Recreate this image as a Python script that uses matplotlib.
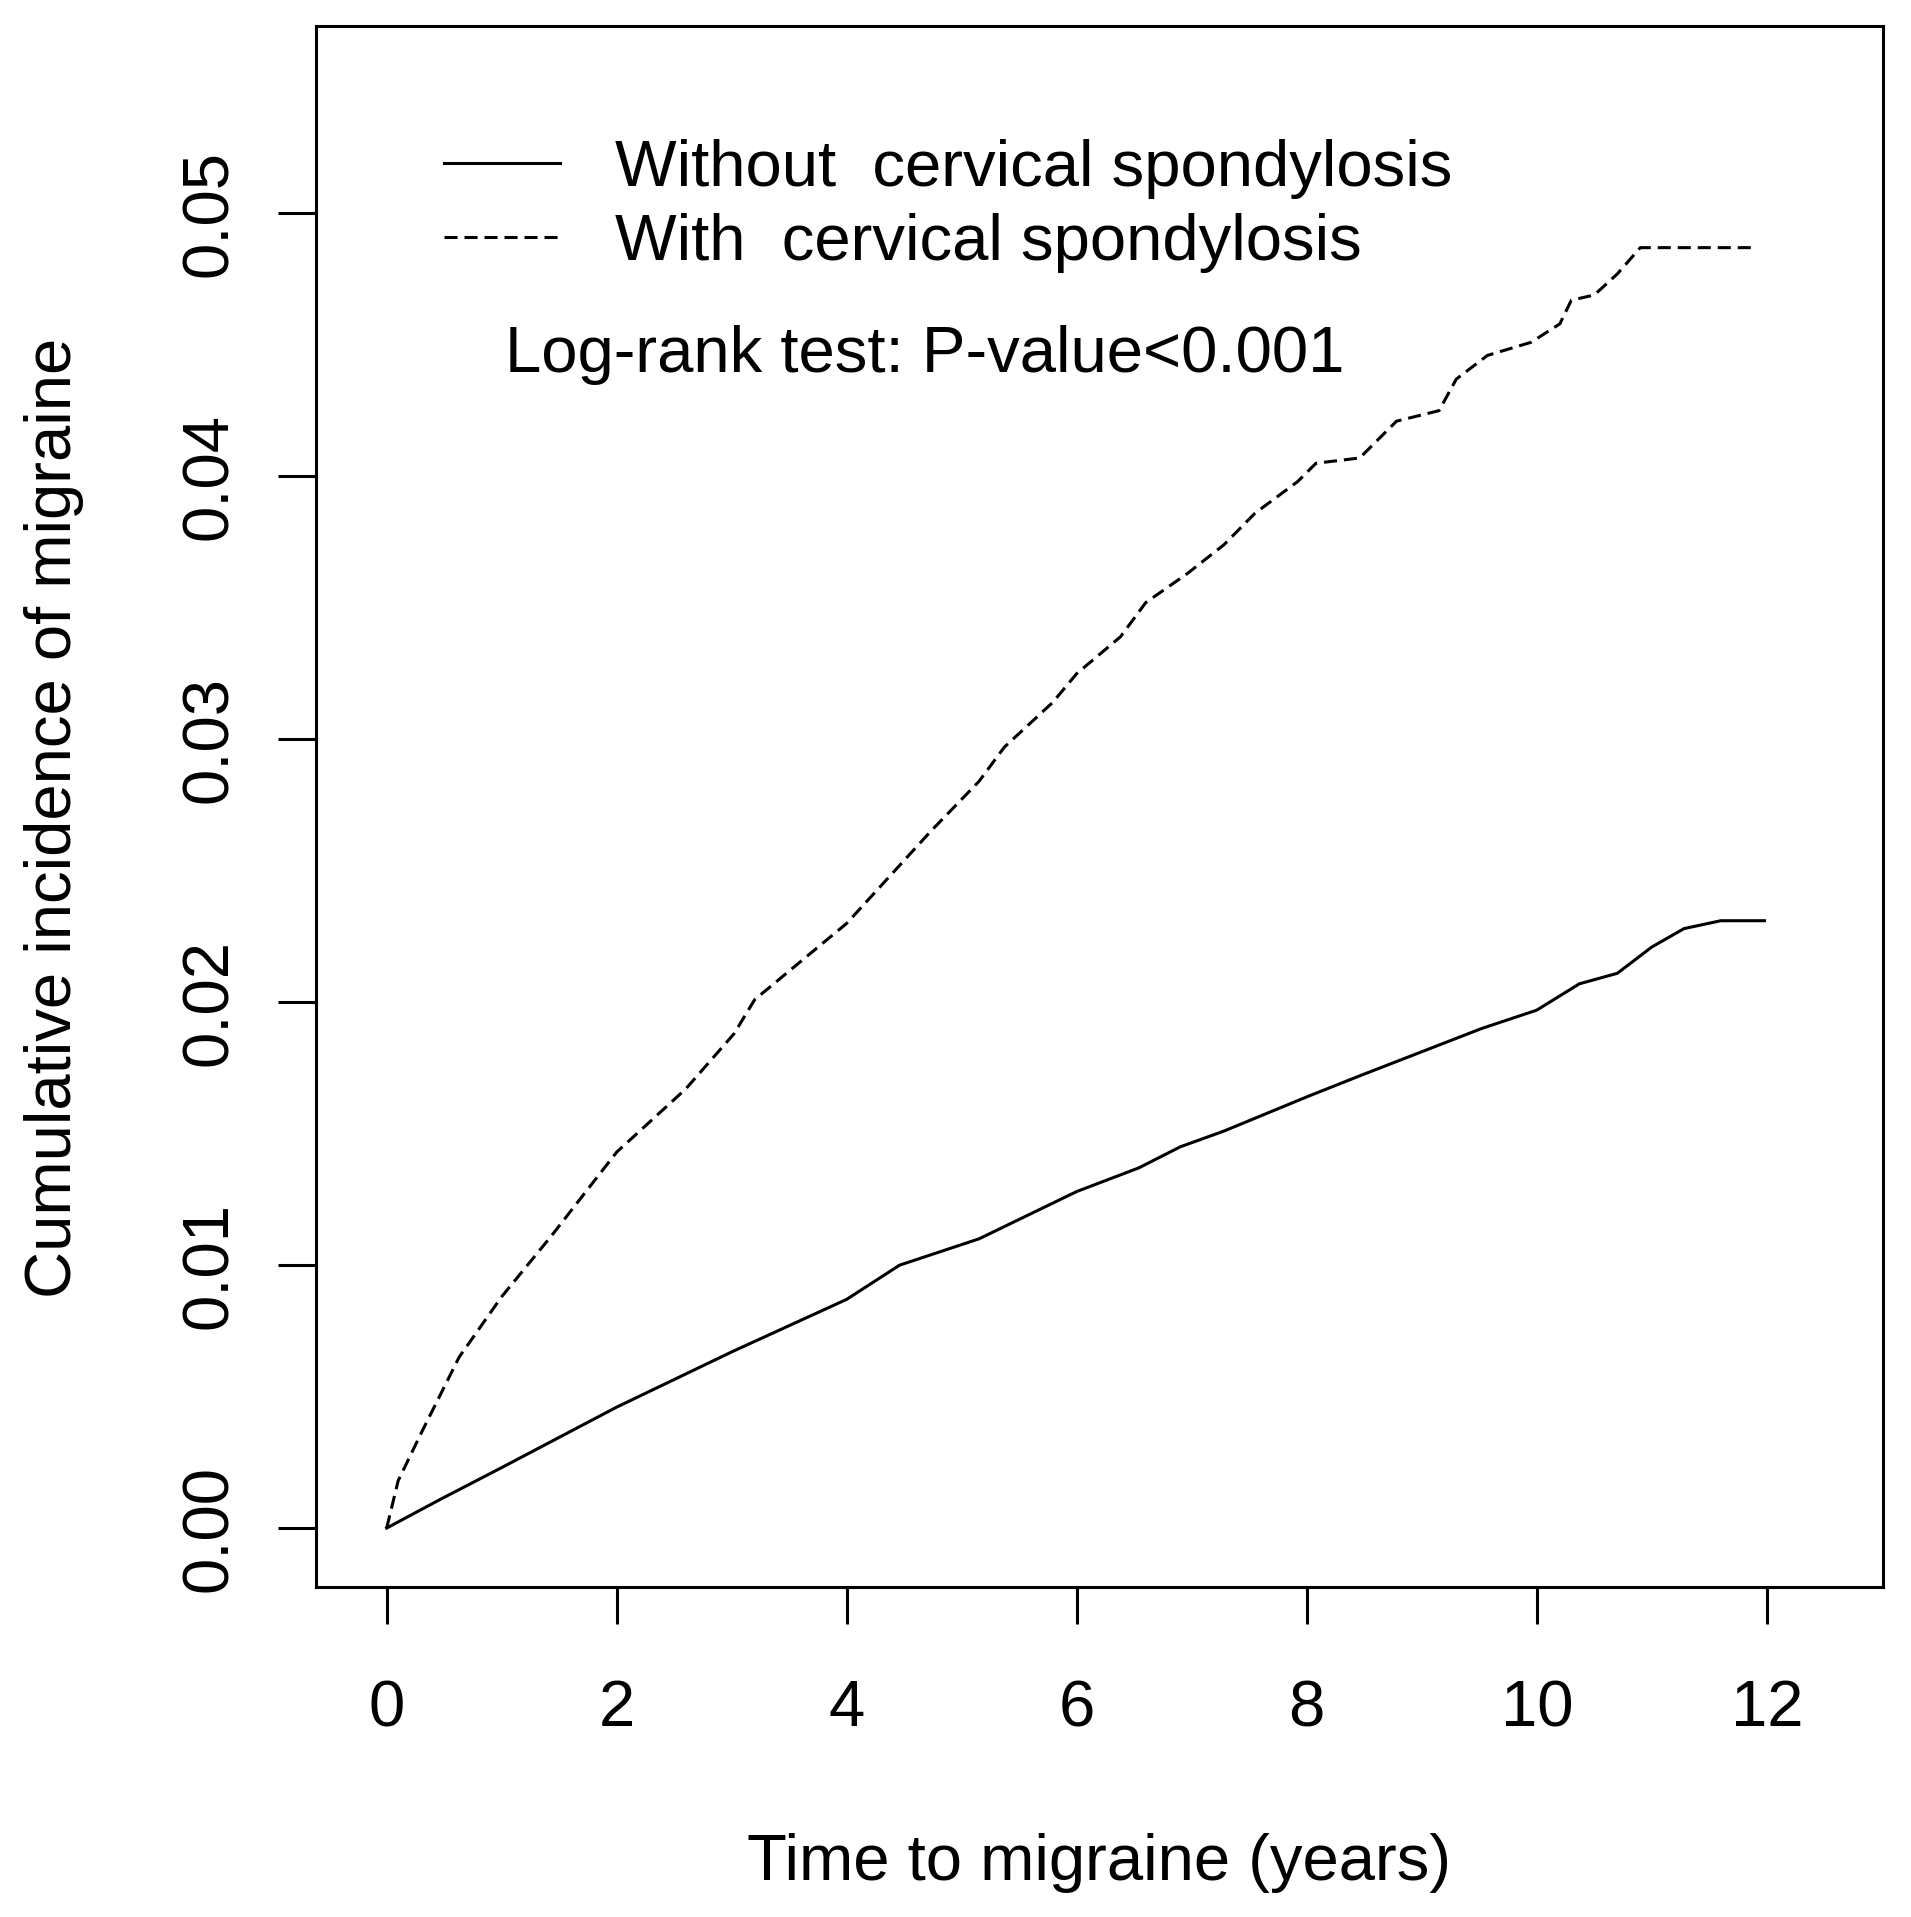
import matplotlib
matplotlib.use("Agg")
import matplotlib.pyplot as plt

plt.rcParams['font.family'] = ['Liberation Sans', 'DejaVu Sans']
plt.rcParams['lines.scale_dashes'] = False

# Data (years, cumulative incidence)
t_without = [0.0, 0.47, 1.0, 2.0, 3.0, 4.0, 4.46, 5.15, 6.0, 6.54, 6.9, 7.28,
             8.0, 8.46, 8.99, 9.52, 10.0, 10.37, 10.7, 11.0, 11.28, 11.6, 11.98]
ci_without = [0.0, 0.0011, 0.0023, 0.0046, 0.0067, 0.0087, 0.0100, 0.0110, 0.0128,
              0.0137, 0.0145, 0.0151, 0.0164, 0.0172, 0.0181, 0.0190, 0.0197,
              0.0207, 0.0211, 0.0221, 0.0228, 0.0231, 0.0231]

t_with = [0.0, 0.1, 0.31, 0.63, 1.0, 1.43, 2.0, 2.6, 3.02, 3.2, 4.0, 4.73, 5.15,
          5.37, 5.79, 6.0, 6.38, 6.6, 6.96, 7.28, 7.55, 7.92, 8.08, 8.46, 8.78,
          9.15, 9.3, 9.57, 9.95, 10.2, 10.3, 10.5, 10.7, 10.9, 11.9]
ci_with = [0.0, 0.0018, 0.0037, 0.0065, 0.0088, 0.0111, 0.0143, 0.0167, 0.0188,
           0.0201, 0.0230, 0.0265, 0.0284, 0.0297, 0.0314, 0.0325, 0.0339, 0.0352,
           0.0363, 0.0374, 0.0386, 0.0398, 0.0405, 0.0407, 0.0421, 0.0425, 0.0437,
           0.0446, 0.0451, 0.0458, 0.0467, 0.0469, 0.0477, 0.0487, 0.0487]

x_ticks = [0, 2, 4, 6, 8, 10, 12]
y_ticks = [0.00, 0.01, 0.02, 0.03, 0.04, 0.05]
y_ticklabels = ["0.00", "0.01", "0.02", "0.03", "0.04", "0.05"]
labels = ["Without  cervical spondylosis", "With  cervical spondylosis"]

W, H = 1911, 1917
ax_l, ax_r, ax_t, ax_b = 315.7, 1883.0, 26.0, 1586.7
fig = plt.figure(figsize=(W / 100, H / 100), dpi=100)
ax = fig.add_axes([ax_l / W, 1 - ax_b / H, (ax_r - ax_l) / W, (ax_b - ax_t) / H])

lw = 2.2
ax.plot(t_without, ci_without, color='black', lw=lw, label=labels[0])
ax.plot(t_with, ci_with, color='black', lw=lw, dashes=(9.4, 5.0), label=labels[1])

ax.set_xlim(-0.617, 13.01)
ax.set_ylim(-0.00223, 0.05713)

fs = 47
ax.set_xticks(x_ticks)
ax.set_xticklabels([str(v) for v in x_ticks], fontsize=fs)
ax.set_yticks(y_ticks)
ax.set_yticklabels(y_ticklabels, fontsize=fs, rotation=90, va='center')
ax.tick_params(axis='x', length=26.6, width=lw, pad=40)
ax.tick_params(axis='y', length=27.4, width=lw, pad=27)
for s in ax.spines.values():
    s.set_linewidth(lw)

ax.set_xlabel("Time to migraine (years)", fontsize=fs, va='baseline')
ax.set_ylabel("Cumulative incidence of migraine", fontsize=fs, va='baseline')
ax.xaxis.set_label_coords(0.5, -(1880 - ax_b) / (ax_b - ax_t))
ax.yaxis.set_label_coords(-(ax_l - 71) / (ax_r - ax_l), (ax_b - 818) / (ax_b - ax_t))

leg = ax.legend(loc='upper left', bbox_to_anchor=(443.7 / W, 1 - 139 / H),
                bbox_transform=fig.transFigure, frameon=False, fontsize=fs,
                handlelength=1.78, handletextpad=0.85, labelspacing=0.21,
                borderpad=0, borderaxespad=0)

fig.text(505 / W, 1 - 371.7 / H, "Log-rank test: P-value<0.001", fontsize=fs,
         ha='left', va='baseline')

fig.savefig("out.png", dpi=100)
